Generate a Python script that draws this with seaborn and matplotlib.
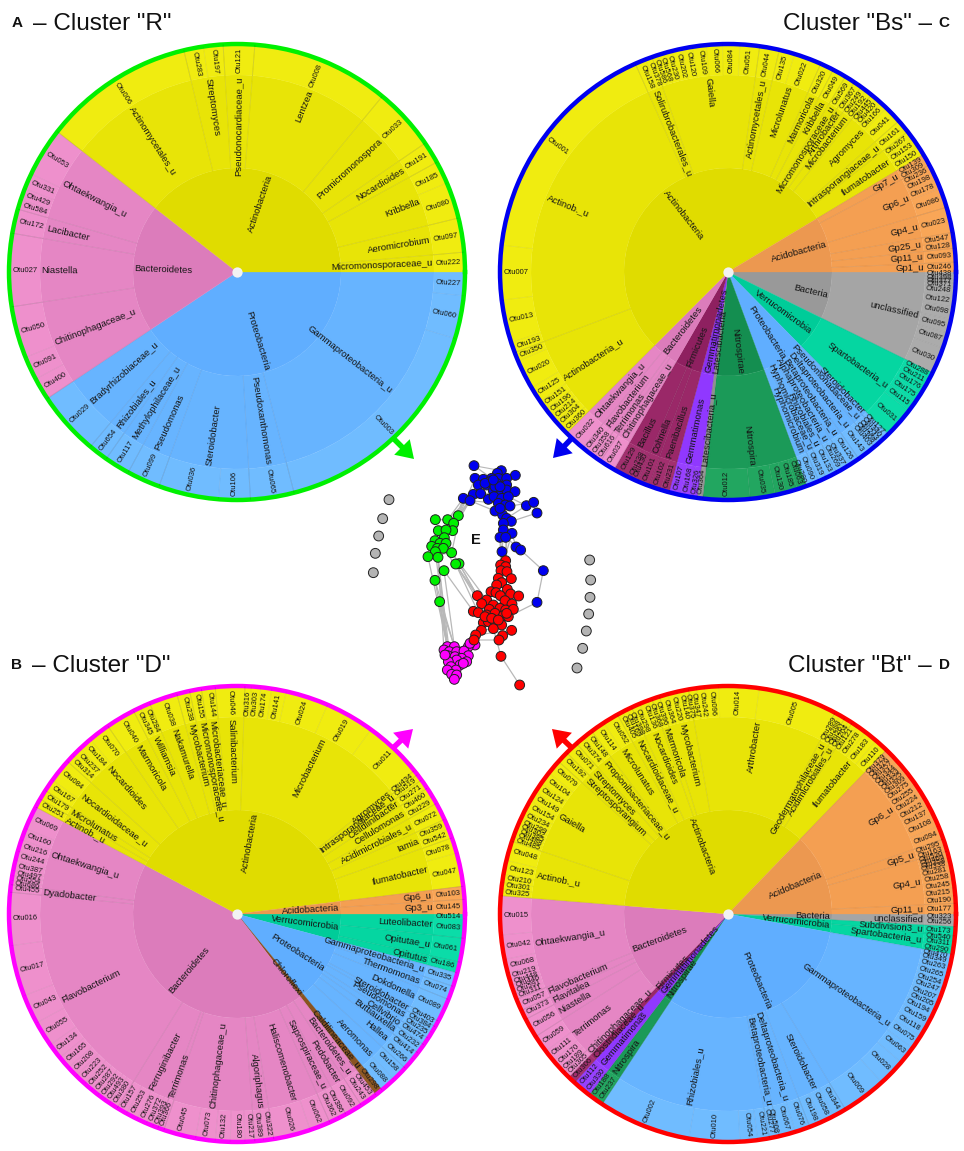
import numpy as np
import pandas as pd
import seaborn as sns
import matplotlib
matplotlib.use("Agg")
import matplotlib.pyplot as plt

# angles are in degrees, clockwise from east, each value is where the wedge ends
R_phyla = ["Proteobacteria", "Bacteroidetes", "Actinobacteria"]
R_phyla_end = [146.3, 218, 360]
R_genera = ["Gammaproteobacteria_u", "Pseudoxanthomonas", "Steroidobacter", "Pseudomonas", "Methylophilaceae_u", "Rhizobiales_u", "Bradyrhizobiaceae_u",
            "Chitinophagaceae_u", "Niastella", "Lacibacter", "Ohtaekwangia_u", "Actinomycetales_u", "Streptomyces", "Pseudonocardiaceae_u", "Lentzea",
            "Promicromonospora", "Nocardioides", "Kribbella", "Aeromicrobium", "Micromonosporaceae_u"]
R_genera_end = [75.5, 86.6, 110, 118.5, 125, 130, 146.3, 171.2, 189.8, 196, 218, 256.5, 266.5, 274.5, 309.6, 325.6, 331.2, 346.3, 355, 360]
R_otus = ["Otu227", "Otu060", "Otu003", "Otu065", "Otu106", "Otu036", "Otu099", "Otu117", "Otu654", "Otu029", "Otu400", "Otu091", "Otu050", "Otu027", "Otu172",
          "Otu584", "Otu429", "Otu331", "Otu053", "Otu006", "Otu283", "Otu197", "Otu121", "Otu008", "Otu033", "Otu191", "Otu185", "Otu080", "Otu097", "Otu222"]
R_otus_end = [6, 17, 75.5, 86.6, 94.7, 110, 118.5, 125, 130, 146.3, 152, 158, 171.2, 189.8, 196, 198.5, 201.5, 205.5, 218, 256.5, 261.5, 266.5, 274.5, 309.6,
              325.6, 331.2, 337, 346.3, 355, 360]

Bs_phyla = ["Bacteria", "Verrucomicrobia", "Proteobacteria", "Nitrospirae", "Latescibacteria", "Gemmatimonadetes", "Firmicutes", "Bacteroidetes", "Actinobacteria", "Acidobacteria"]
Bs_phyla_end = [26.2, 45.4, 69.8, 96.4, 97.8, 105, 120, 135, 329, 360]
Bs_genera = ["unclassified", "Spartobacteria_u", "Steroidobacter", "Pseudomonadaceae_u", "Deltaproteobacteria_u", "Betaproteobacteria_u", "Alphaproteobacteria_u",
             "Rhizobiales_u", "Hyphomicrobiaceae_u", "Hyphomicrobium", "Nitrospira", "Latescibacteria_u", "Gemmatimonas", "Paenibacillus", "Cohnella", "Bacillus",
             "Chitinophagaceae_u", "Terrimonas", "Flavobacterium", "Ohtaekwangia_u", "Actinobacteria_u", "Actinob._u", "Solirubrobacterales_u", "Gaiella",
             "Actinomycetales_u", "Microlunatus", "Marmoricola", "Kribbella", "Micromonosporaceae_u", "Arthrobacter", "Microbacterium", "Agromyces",
             "Intrasporangiaceae_u", "Ilumatobacter", "Gp7_u", "Gp6_u", "Gp4_u", "Gp25_u", "Gp11_u", "Gp1_u"]
Bs_genera_end = [26.2, 45.4, 46.8, 50, 55, 58.5, 61.5, 64.5, 66.5, 69.8, 96.4, 97.8, 105, 110.3, 113.3, 120, 124, 125.7, 129.5, 135, 159.3, 246, 250.5, 278,
                 283, 294, 297.5, 301, 303.7, 305.7, 309, 318.5, 322, 329, 332, 343.5, 350, 354, 357.5, 360]
Bs_otus = ["Otu438", "Otu398", "Otu377", "Otu371", "Otu248", "Otu122", "Otu098", "Otu095", "Otu087", "Otu030", "Otu288", "Otu211", "Otu176", "Otu175", "Otu115", "Otu031",
           "Otu127", "Otu340", "Otu243", "Otu368", "Otu403", "Otu143", "Otu126", "Otu337", "Otu269", "Otu133", "Otu319", "Otu090", "Otu280", "Otu063", "Otu185", "Otu130",
           "Otu035", "Otu012", "Otu364", "Otu326", "Otu168", "Otu107", "Otu231", "Otu102", "Otu101", "Otu430", "Otu238", "Otu129", "Otu037", "Otu616", "Otu358", "Otu340",
           "Otu032", "Otu360", "Otu304", "Otu214", "Otu196", "Otu151", "Otu125", "Otu020", "Otu350", "Otu193", "Otu013", "Otu007", "Otu001", "Otu158", "Otu378", "Otu586",
           "Otu568", "Otu230", "Otu202", "Otu120", "Otu109", "Otu066", "Otu084", "Otu051", "Otu044", "Otu135", "Otu022", "Otu320", "Otu049", "Otu569", "Otu367", "Otu249",
           "Otu192", "Otu445", "Otu420", "Otu166", "Otu041", "Otu161", "Otu267", "Otu153", "Otu150", "Otu139", "Otu309", "Otu236", "Otu198", "Otu178", "Otu086", "Otu023",
           "Otu547", "Otu128", "Otu093", "Otu246"]
Bs_otus_end = [1.1, 2, 2.8, 3.8, 6, 8.8, 12, 15.5, 19.5, 26.2, 28, 30, 32.3, 34.8, 37.5, 45.4,
               46.8, 48, 49, 50, 51.5, 55, 58.5, 60, 61.5, 64.5, 66.5, 69.8, 71, 72.3, 75.3, 78,
               84.4, 96.4, 97.8, 99.5, 102, 105, 107.2, 110.3, 113.3, 114.8, 116, 120, 124, 125.7, 127.3, 129.5,
               135, 136.7, 139, 141, 143, 145.5, 149.5, 157, 159.3, 162, 172.9, 186.8, 246, 248.8, 250.5, 252,
               253.6, 255.8, 258.3, 261, 264.5, 268.6, 273, 278, 283, 287, 294, 297.5, 301, 303.7, 305.7, 307.2,
               309, 310.5, 312, 314, 318.5, 322, 324, 326.5, 329, 330.5, 332, 334, 336, 338.5, 343.5, 350,
               352.2, 354, 357.5, 360]

D_phyla = ["Verrucomicrobia", "Proteobacteria", "Chloroflexi", "Bacteroidetes", "Actinobacteria", "Acidobacteria"]
D_phyla_end = [15, 50.5, 52.5, 208, 353, 360]
D_genera = ["Luteolibacter", "Opitutae_u", "Opitutus", "Gammaproteobacteria_u", "Thermomonas", "Dokdonella", "Steroidobacter", "Pseudomonas", "Cellvibrio", "Buttiauxella",
            "Hallea", "Aeromonas", "Caldilineaceae_u", "Bacteroidetes_u", "Pedobacter", "Saprospiraceae_u", "Haliscomenobacter", "Algoriphagus", "Chitinophagaceae_u",
            "Terrimonas", "Ferruginibacter", "Flavobacterium", "Dyadobacter", "Ohtaekwangia_u", "Actinob._u", "Microlunatus", "Nocardioidaceae_u", "Nocardioides", "Marmoricola",
            "Williamsia", "Nakamurella", "Mycobacterium", "Micromonosporaceae_u", "Microbacteriaceae_u", "Salinibacterium", "Microbacterium", "Agromyces", "Intrasporangiaceae_u",
            "Cellulinibacter", "Cellulomonas", "Acidimicrobiales_u", "Iamia", "Ilumatobacter", "Gp6_u", "Gp3_u"]
D_genera_end = [6.1, 12.2, 15, 18.5, 22, 28, 29.6, 33, 35, 37.5, 42.5, 50.5, 52.5, 57, 61.5, 66, 80.7, 85.5, 108.7, 110.3, 121.7, 185.5, 187.4, 208, 210.3, 212.8, 222, 235.5,
                243, 247.5, 254.7, 258, 261, 264.5, 272, 321, 322.3, 324, 326.5, 331, 335.5, 340.5, 353, 356.3, 360]
D_otus = ["Otu514", "Otu083", "Otu061", "Otu186", "Otu335", "Otu074", "Otu089", "Otu403", "Otu384", "Otu235", "Otu474", "Otu232", "Otu414", "Otu266", "Otu158", "Otu088", "Otu298",
          "Otu453", "Otu243", "Otu092", "Otu386", "Otu362", "Otu062", "Otu026", "Otu322", "Otu389", "Otu217", "Otu180", "Otu132", "Otu073", "Otu045", "Otu366", "Otu393", "Otu372",
          "Otu276", "Otu253", "Otu157", "Otu380", "Otu493", "Otu292", "Otu287", "Otu252", "Otu223", "Otu208", "Otu165", "Otu134", "Otu055", "Otu043", "Otu017", "Otu016", "Otu455",
          "Otu686", "Otu554", "Otu497", "Otu387", "Otu244", "Otu216", "Otu160", "Otu069", "Otu251", "Otu179", "Otu167", "Otu084", "Otu314", "Otu237", "Otu184", "Otu070", "Otu040",
          "Otu345", "Otu284", "Otu038", "Otu238", "Otu155", "Otu144", "Otu046", "Otu316", "Otu303", "Otu174", "Otu141", "Otu024", "Otu019", "Otu011", "Otu434", "Otu519", "Otu271",
          "Otu460", "Otu229", "Otu072", "Otu359", "Otu542", "Otu078", "Otu047", "Otu103", "Otu145"]
D_otus_end = [1.2, 6.1, 12.2, 15, 18.5, 22, 28, 29.6, 31.3, 33, 35, 37.5, 39.5, 42.5, 46.5, 50.5, 52.5,
              54.7, 57, 61.5, 63.5, 66, 71.3, 80.7, 83.3, 85.5, 88, 91.7, 95.5, 100.5, 108.7, 110.3, 111.7, 113.4,
              116, 119, 121.7, 124, 125.5, 127.6, 129.6, 131.9, 134.8, 137.6, 141, 145, 151.5, 159, 172, 185.5, 187.4,
              188.5, 189.7, 191, 193.6, 196, 199, 202, 208, 210.3, 212.8, 216, 222, 224, 226.5, 230, 235.5, 243,
              245, 247.5, 254.7, 258, 261, 264.5, 272, 273.6, 276, 278.8, 282.5, 293.4, 306, 321, 322.3, 324, 326.5,
              329, 331, 335.5, 338, 340.5, 344.5, 353, 356.3, 360]

Bt_phyla = ["Bacteria", "Verrucomicrobia", "Proteobacteria", "Nitrospirae", "Gemmatimonadetes", "Firmicutes", "Bacteroidetes", "Actinobacteria", "Acidobacteria"]
Bt_phyla_end = [3.2, 10.2, 123.5, 127.5, 132.3, 134.3, 184.6, 314, 360]
Bt_genera = ["unclassified", "Subdivision3_u", "Spartobacteria_u", "Gammaproteobacteria_u", "Steroidobacter", "Deltaproteobacteria_u", "Betaproteobacteria_u", "Rhizobiales_u",
             "Nitrospira", "Gemmatimonas", "Clostridiaceae_u", "Chitinophagaceae_u", "Terrimonas", "Niastella", "Flavitalea", "Flavobacterium", "Ohtaekwangia_u", "Actinob._u",
             "Gaiella", "Streptosporangium", "Streptomyces", "Propionibacteriaceae_u", "Microlunatus", "Nocardioidaceae_u", "Nocardioides", "Marmoricola", "Mycobacterium",
             "Arthrobacter", "Geodermatophilaceae_u", "Acidimicrobiales_u", "Ilumatobacter", "Gp6_u", "Gp5_u", "Gp4_u", "Gp11_u"]
Bt_genera_end = [3.2, 5.5, 10.2, 59, 69, 77, 79.5, 123.5, 127.5, 132.3, 134.3, 136, 147.5, 152.5, 155, 158, 184.6, 198.6, 222, 225, 228.4, 233.3, 241, 245, 250.5, 252.5, 260,
                 298, 300.8, 303, 314, 340.8, 344, 357.3, 360]
Bt_otus = ["Otu323", "Otu256", "Otu173", "Otu540", "Otu311", "Otu290", "Otu470", "Otu349", "Otu263", "Otu265", "Otu254", "Otu247", "Otu207", "Otu205", "Otu194", "Otu159", "Otu118",
           "Otu075", "Otu063", "Otu028", "Otu009", "Otu344", "Otu058", "Otu198", "Otu076", "Otu067", "Otu508", "Otu277", "Otu221", "Otu054", "Otu010", "Otu002", "Otu237", "Otu188",
           "Otu330", "Otu112", "Otu306", "Otu305", "Otu189", "Otu170", "Otu111", "Otu059", "Otu056", "Otu373", "Otu057", "Otu311", "Otu591", "Otu446", "Otu448", "Otu219", "Otu068",
           "Otu042", "Otu015", "Otu325", "Otu301", "Otu210", "Otu123", "Otu048", "Otu485", "Otu488", "Otu385", "Otu302", "Otu299", "Otu234", "Otu154", "Otu149", "Otu124", "Otu104",
           "Otu079", "Otu192", "Otu071", "Otu374", "Otu148", "Otu114", "Otu052", "Otu405", "Otu169", "Otu398", "Otu298", "Otu136", "Otu368", "Otu396", "Otu364", "Otu220", "Otu140",
           "Otu375", "Otu347", "Otu242", "Otu096", "Otu014", "Otu005", "Otu289", "Otu288", "Otu261", "Otu204", "Otu121", "Otu278", "Otu183", "Otu110", "Otu379", "Otu376", "Otu357",
           "Otu344", "Otu333", "Otu325", "Otu309", "Otu275", "Otu255", "Otu224", "Otu212", "Otu137", "Otu108", "Otu094", "Otu295", "Otu163", "Otu520", "Otu469", "Otu358", "Otu338",
           "Otu281", "Otu258", "Otu245", "Otu215", "Otu190", "Otu177"]
Bt_otus_end = [1.4, 3.2, 5.5, 6.9, 8.5, 10.2, 11.4, 13, 14.9, 16.9, 18.9, 21, 23, 24.9, 27, 29.7, 32.5,
               36, 40.6, 47.6, 59, 62.3, 65.7, 69, 72.8, 77, 78.3, 79.5, 82.5, 87, 99.9, 123.5, 125.5, 127.5,
               129.5, 132.3, 134.3, 136, 137.5, 140, 143, 147.5, 152.5, 155, 158, 159.5, 160.7, 161.9, 163, 165, 168.5,
               174.7, 184.6, 186.4, 188, 190, 193.6, 198.6, 199.8, 201, 202.3, 203.5, 204.9, 207.1, 209.8, 212.4, 215, 218.2,
               222, 225, 228.4, 230.8, 233.3, 237, 241, 242.4, 243.7, 245, 247.2, 249.5, 250.5, 252.5, 254.7, 257, 258.8,
               260, 262, 264, 267.6, 277.9, 298, 299.4, 300.8, 302, 303, 304.5, 307, 310.5, 314, 315.3, 316.6, 317.9,
               319.2, 320.5, 321.8, 323, 325.3, 327.2, 329.5, 331.8, 334, 337.3, 340.8, 342.5, 344, 344.9, 345.8, 346.7, 347.6,
               349.3, 351.4, 353.4, 355.4, 357.3, 360]

# inner, middle, outer ring tones
phylum_colors = {
    "Actinobacteria": ["#e0dc00", "#e8e407", "#f0ec10"],
    "Bacteroidetes": ["#dc7cbb", "#e586c4", "#ee90cc"],
    "Proteobacteria": ["#60aeff", "#67b4ff", "#70bcff"],
    "Acidobacteria": ["#ec9850", "#f49f52", "#f9a657"],
    "Bacteria": ["#999999", "#a5a5a5", "#ababab"],
    "Verrucomicrobia": ["#00cc99", "#05d6a1", "#0bdca8"],
    "Firmicutes": ["#8e2060", "#9a2868", "#a2306f"],
    "Gemmatimonadetes": ["#8a32f0", "#9038ff", "#9740ff"],
    "Latescibacteria": ["#888888", "#909090", "#989898"],
    "Nitrospirae": ["#148e50", "#1b9a58", "#22a660"],
    "Chloroflexi": ["#855020", "#8a5420", "#905a24"],
}

# cluster network, positions as read on a 780x750 sheet
gray_x = [87, 68, 56, 46, 40, 689, 692, 690, 686, 679, 668, 651]
gray_y = [149, 206, 258, 310, 368, 330, 390, 442, 492, 543, 595, 654]
green_x = [226, 263, 295, 281, 278, 235, 258, 253, 225, 240, 258, 215, 232, 250, 226, 275, 204, 234, 297, 287, 252, 225, 239]
green_y = [209, 209, 197, 220, 242, 242, 240, 263, 272, 280, 280, 289, 295, 295, 305, 308, 320, 322, 341, 342, 362, 391, 455]
blue_x = [342, 424, 412, 466, 345, 370, 395, 415, 440, 355, 380, 410, 440, 400, 425, 440, 465, 340, 362, 385, 402, 425, 445, 310, 330, 415,
          436, 450, 405, 428, 440, 454, 430, 430, 456, 420, 437, 499, 521, 531, 468, 482, 426, 550, 531, 390, 405, 375, 420, 400, 420]
blue_y = [47, 62, 70, 76, 85, 88, 85, 85, 85, 105, 105, 100, 105, 122, 125, 120, 125, 133, 131, 148, 140, 145, 140, 145, 152, 160,
          165, 168, 183, 195, 205, 214, 220, 240, 250, 262, 262, 167, 157, 189, 291, 300, 305, 362, 457, 95, 110, 100, 110, 90, 175]
magenta_x = [345, 325, 262, 283, 252, 268, 290, 312, 325, 263, 285, 305, 320, 290, 265, 300, 273, 288, 262, 275, 290, 283, 330, 255, 310]
magenta_y = [585, 590, 590, 590, 600, 605, 605, 603, 617, 617, 620, 625, 635, 630, 635, 645, 650, 660, 660, 673, 675, 688, 580, 615, 640]
red_x = [437, 422, 437, 423, 441, 415, 454, 425, 410, 442, 393, 408, 421, 452, 476, 352, 380, 365, 400, 435, 456, 388, 420, 437, 460, 340,
         355, 380, 405, 430, 445, 370, 385, 402, 425, 400, 364, 347, 455, 428, 417, 342, 423, 479, 375, 395, 415, 440]
red_y = [332, 345, 350, 362, 365, 385, 386, 398, 405, 418, 425, 428, 437, 432, 438, 437, 450, 461, 465, 452, 462, 478, 475, 480, 478, 484,
         488, 495, 490, 497, 500, 518, 515, 510, 525, 536, 541, 555, 541, 557, 570, 570, 619, 705, 500, 505, 510, 490]

links = [("g", 16, "m", 2), ("g", 17, "m", 2), ("g", 17, "m", 5), ("g", 21, "m", 3), ("g", 21, "m", 2), ("g", 22, "m", 2), ("g", 22, "m", 3), ("g", 22, "m", 5),
         ("g", 12, "m", 4), ("g", 20, "m", 3), ("g", 14, "m", 2), ("g", 2, "b", 23), ("g", 2, "b", 24), ("g", 3, "b", 23), ("g", 3, "b", 17), ("g", 3, "b", 24),
         ("g", 4, "b", 24), ("g", 1, "b", 23), ("g", 1, "b", 17), ("g", 4, "b", 4), ("g", 15, "b", 23), ("g", 2, "b", 17), ("g", 18, "r", 15), ("g", 19, "r", 15),
         ("g", 18, "r", 17), ("g", 19, "r", 26), ("g", 20, "r", 25), ("g", 15, "r", 16), ("g", 13, "r", 15), ("g", 19, "r", 27), ("b", 42, "r", 0), ("b", 35, "r", 1),
         ("b", 36, "r", 2), ("b", 33, "r", 3), ("b", 34, "r", 3), ("b", 36, "r", 4), ("b", 41, "b", 43), ("b", 43, "b", 44), ("b", 44, "r", 30), ("b", 40, "b", 34),
         ("b", 41, "b", 36), ("b", 42, "b", 35), ("r", 43, "r", 42), ("r", 42, "r", 35), ("r", 40, "r", 34), ("m", 0, "r", 36), ("m", 22, "r", 37), ("r", 41, "m", 1),
         ("b", 0, "b", 6), ("b", 23, "b", 20), ("b", 24, "b", 28), ("b", 37, "b", 22), ("b", 38, "b", 27), ("b", 39, "b", 31), ("b", 37, "b", 30), ("b", 28, "b", 32)]

W, H = 964, 1151
R_OUT, R_GENUS, R_PHYLUM = 228, 197, 104


def ring(ax, names, ends, inner, outer, tone, phyla, phyla_end, size):
    starts = [0] + list(ends[:-1])
    for name, a, b in zip(names, starts, ends):
        mid = (a + b) / 2
        phylum = phyla[int(np.searchsorted(phyla_end, mid))]
        col = phylum_colors[phylum][tone]
        ax.bar(np.radians(a), outer - inner, width=np.radians(b - a), bottom=inner, align="edge",
               color=col, edgecolor=col, linewidth=0.2)
        # text runs along the radius and always reads left to right
        if np.cos(np.radians(mid)) >= 0:
            rot, ha = -mid, "right"
        else:
            rot, ha = 180 - mid, "left"
        pad = 4 if tone == 2 else 1.5
        ax.text(np.radians(mid), outer - pad, name, rotation=rot, rotation_mode="anchor", ha=ha, va="center",
                fontsize=size, color="#151515", zorder=5)


def separators(ax, ends, inner, outer, alpha):
    for e in ends[:-1]:
        ax.plot([np.radians(e), np.radians(e)], [inner, outer], color="black", alpha=alpha, linewidth=0.7, zorder=4)


def sunburst(cx, cy, border, phyla, phyla_end, genera, genera_end, otus, otus_end):
    ax = fig.add_axes([(cx - R_OUT) / W, 1 - (cy + R_OUT) / H, 2 * R_OUT / W, 2 * R_OUT / H], projection="polar")
    ax.set_theta_zero_location("E")
    ax.set_theta_direction(-1)
    ring(ax, phyla, phyla_end, 0, R_PHYLUM, 0, phyla, phyla_end, 6.8)
    ring(ax, genera, genera_end, R_PHYLUM, R_GENUS, 1, phyla, phyla_end, 6.8)
    ring(ax, otus, otus_end, R_GENUS, R_OUT, 2, phyla, phyla_end, 5.5)
    separators(ax, genera_end, R_PHYLUM, R_OUT, 0.07)
    separators(ax, otus_end, R_GENUS, R_OUT, 0.05)
    ax.scatter([0], [0], s=55, color="#f2f2f2", linewidth=0, zorder=6)
    ax.set_ylim(0, R_OUT)
    ax.set_xticks([])
    ax.set_yticks([])
    ax.grid(False)
    ax.spines["polar"].set_color(border)
    ax.spines["polar"].set_linewidth(3.2)
    return ax


sns.set_theme(style="white")
plt.rcParams["font.family"] = ["Liberation Sans", "DejaVu Sans"]

fig = plt.figure(figsize=(W / 100, H / 100), dpi=100)

sunburst(237, 272, "#00f000", R_phyla, R_phyla_end, R_genera, R_genera_end, R_otus, R_otus_end)
sunburst(728, 272, "#0000f0", Bs_phyla, Bs_phyla_end, Bs_genera, Bs_genera_end, Bs_otus, Bs_otus_end)
sunburst(237, 914, "#ff00ff", D_phyla, D_phyla_end, D_genera, D_genera_end, D_otus, D_otus_end)
sunburst(728, 914, "#ff0000", Bt_phyla, Bt_phyla_end, Bt_genera, Bt_genera_end, Bt_otus, Bt_otus_end)

# page layer for the titles and arrows, in pixels
page = fig.add_axes([0, 0, 1, 1], facecolor="none")
page.set_xlim(0, W)
page.set_ylim(H, 0)
page.axis("off")

for x, y, letter in [(17, 23, "A"), (944, 23, "C"), (17, 665, "B"), (944, 665, "D")]:
    page.text(x, y, letter, fontsize=11, fontweight="bold", color="#111111", ha="center", va="center")
page.text(33, 24, '\u2013 Cluster "R"', fontsize=17.5, color="#111111", ha="left", va="center")
page.text(932, 24, 'Cluster "Bs" \u2013', fontsize=17.5, color="#111111", ha="right", va="center")
page.text(32, 666, '\u2013 Cluster "D"', fontsize=17.5, color="#111111", ha="left", va="center")
page.text(932, 666, 'Cluster "Bt" \u2013', fontsize=17.5, color="#111111", ha="right", va="center")

for x0, y0, x1, y1, col in [(392, 437, 414, 459, "#00f000"), (572, 438, 553, 458, "#0000f0"),
                            (393, 748, 413, 729, "#ff00ff"), (572, 748, 552, 729, "#ff0000")]:
    page.arrow(x0, y0, x1 - x0, y1 - y0, width=5.5, head_width=22, head_length=17,
               length_includes_head=True, color=col, linewidth=0)

# network in the middle
net = fig.add_axes([360 / W, 1 - 700 / H, 260 / W, 250 / H], facecolor="none")
clusters = {"g": (green_x, green_y), "b": (blue_x, blue_y), "m": (magenta_x, magenta_y), "r": (red_x, red_y)}
for xs, ys, stop in [(blue_x, blue_y, 37), (green_x, green_y, 18), (magenta_x, magenta_y, 25), (red_x, red_y, 42)]:
    net.plot(xs[:stop], ys[:stop], color="#b8b8b8", linewidth=0.8, zorder=1)
for a, i, b, j in links:
    net.plot([clusters[a][0][i], clusters[b][0][j]], [clusters[a][1][i], clusters[b][1][j]],
             color="#b8b8b8", linewidth=0.9, zorder=1)

nodes = pd.concat([
    pd.DataFrame({"x": gray_x, "y": gray_y, "cluster": "none"}),
    pd.DataFrame({"x": green_x, "y": green_y, "cluster": "R"}),
    pd.DataFrame({"x": blue_x, "y": blue_y, "cluster": "Bs"}),
    pd.DataFrame({"x": magenta_x, "y": magenta_y, "cluster": "D"}),
    pd.DataFrame({"x": red_x, "y": red_y, "cluster": "Bt"}),
], ignore_index=True)
sns.scatterplot(data=nodes, x="x", y="y", hue="cluster", ax=net, s=50, legend=False, edgecolor="#222222", linewidth=0.7, zorder=3,
                palette={"none": "#b4b4b4", "R": "#00f000", "Bs": "#0000f0", "D": "#ff00ff", "Bt": "#ff0000"})
net.text(347, 270, "E", fontsize=10.5, fontweight="bold", color="#111111", ha="center", va="center")
net.set_xlim(0, 780)
net.set_ylim(750, 0)
net.axis("off")

fig.savefig("out.png", dpi=100)
